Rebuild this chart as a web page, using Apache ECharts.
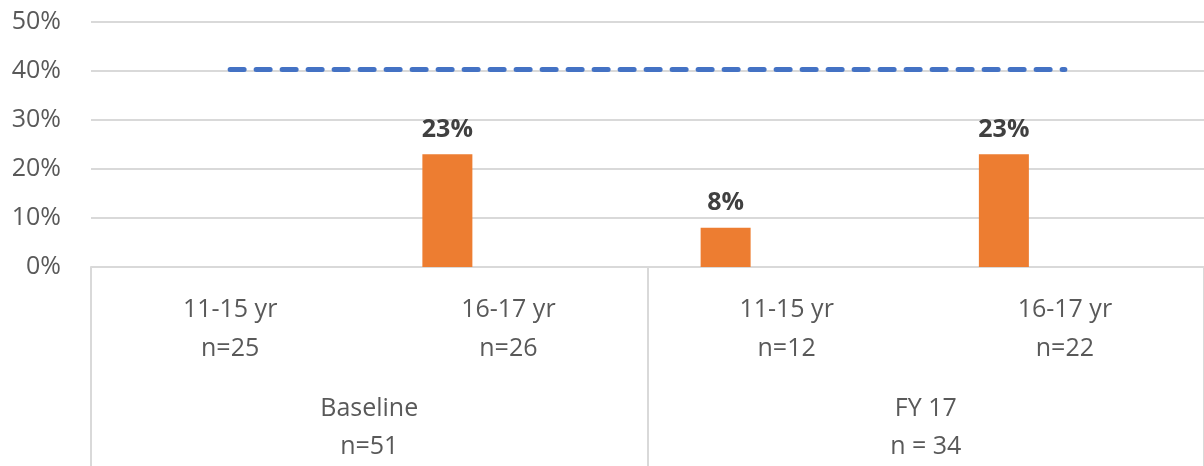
<!DOCTYPE html>
<html>
<head>
<meta charset="utf-8">
<script src="https://cdn.jsdelivr.net/npm/echarts@6/dist/echarts.min.js"></script>
<style>
  html, body { margin: 0; padding: 0; background: #fff; }
  #chart { width: 1204px; height: 466px; }
</style>
</head>
<body>
<div id="chart"></div>
<script>
// Age bands within each reporting period
const ageBands = ['11-15 yr\nn=25', '16-17 yr\nn=26', '11-15 yr\nn=12', '16-17 yr\nn=22'];
// Reporting periods
const periods = ['Baseline\nn=51', 'FY 17\nn = 34'];
// Share of each band (%)
const rates = [null, 23, 8, 23];
// Unused companion column in the clustered layout
const companion = [null, null, null, null];
// Target level (%)
const target = [40.3, 40.3, 40.3, 40.3];
// Value axis
const yMin = 0, yMax = 50, yStep = 10;

const FONT = 'Open Sans';
const TXT = '#595959';
const GRID = '#d9d9d9';

const chart = echarts.init(document.getElementById('chart'), null, { renderer: 'canvas' });
chart.setOption({
  animation: false,
  backgroundColor: '#fff',
  textStyle: { fontFamily: FONT },
  grid: { left: 91, top: 22, width: 1118, height: 245.5, containLabel: false },
  xAxis: [
    {
      type: 'category',
      data: ageBands,
      position: 'bottom',
      axisLine: { show: true, lineStyle: { color: GRID, width: 2 } },
      axisTick: { show: false },
      splitLine: { show: false },
      axisLabel: {
        interval: 0, margin: 23, color: TXT, fontFamily: FONT,
        fontSize: 25, lineHeight: 39, align: 'center', verticalAlign: 'top'
      }
    },
    {
      type: 'category',
      data: periods,
      position: 'bottom',
      axisLine: { show: false },
      axisTick: { show: true, length: 205, interval: 0, lineStyle: { color: GRID, width: 2 } },
      splitLine: { show: false },
      axisLabel: {
        interval: 0, margin: 123, color: TXT, fontFamily: FONT,
        fontSize: 25, lineHeight: 38, align: 'center', verticalAlign: 'top'
      }
    }
  ],
  yAxis: {
    type: 'value',
    min: yMin, max: yMax, interval: yStep,
    axisLine: { show: false },
    axisTick: { show: false },
    splitLine: { show: true, lineStyle: { color: GRID, width: 2 } },
    axisLabel: {
      formatter: '{value}%', color: TXT, fontFamily: FONT, fontSize: 25, margin: 30
    }
  },
  series: [
    {
      name: 'Rate',
      type: 'bar',
      xAxisIndex: 0,
      data: rates,
      barWidth: 50,
      barGap: '144%',
      itemStyle: { color: '#ed7d31' },
      label: {
        show: true, position: 'top', distance: 12,
        formatter: p => p.value + '%',
        color: '#404040', fontWeight: 'bold', fontSize: 25, fontFamily: FONT
      }
    },
    {
      name: 'Companion',
      type: 'bar',
      xAxisIndex: 0,
      data: companion,
      barWidth: 50,
      itemStyle: { color: 'transparent' }
    },
    {
      name: 'Target',
      type: 'line',
      xAxisIndex: 0,
      data: target,
      symbol: 'none',
      lineStyle: { color: '#4472c4', width: 5, type: [14, 12], cap: 'round' },
      z: 5
    }
  ]
});
</script>
</body>
</html>
